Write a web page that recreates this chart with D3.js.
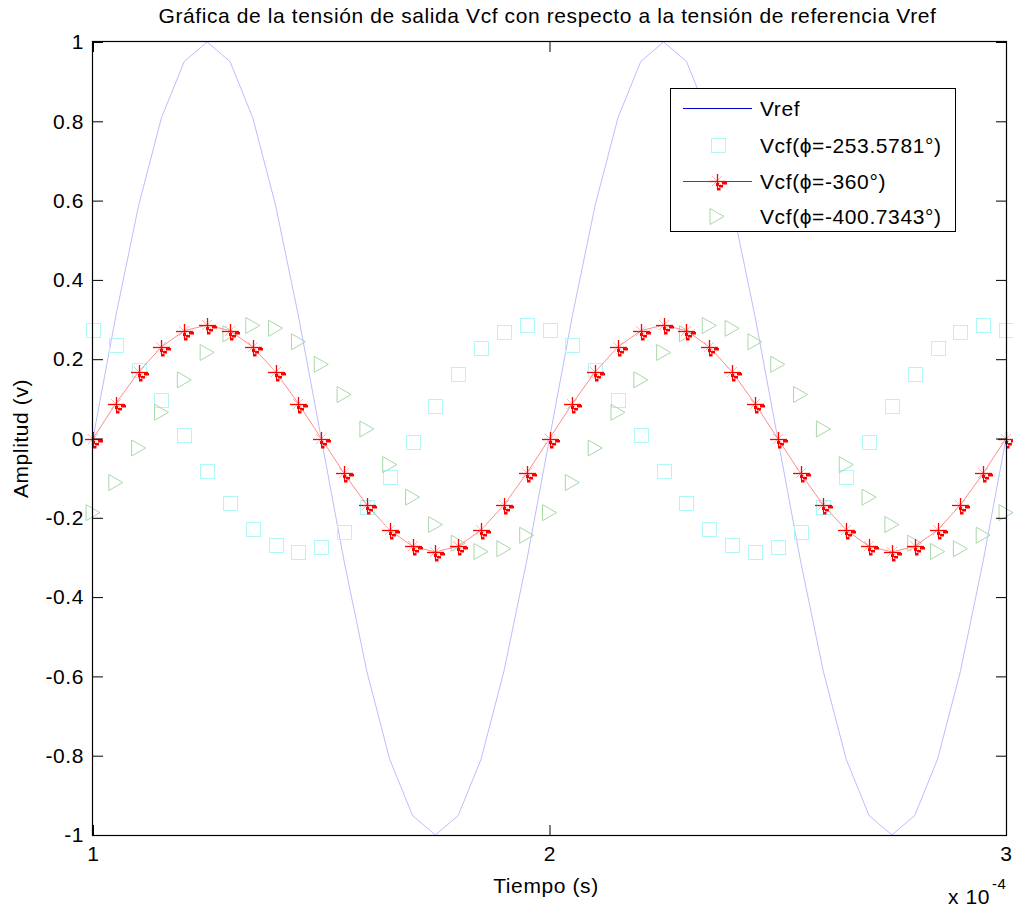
<!DOCTYPE html>
<html><head><meta charset="utf-8">
<script src="https://cdn.jsdelivr.net/npm/d3@7"></script>
<style>body{margin:0;background:#fff;} text{font-family:"Liberation Sans",Arial,sans-serif;fill:#000;letter-spacing:0.6px;}</style>
</head><body>
<svg id="c" width="1013" height="911"></svg>
<script>
// time samples (units of 1e-4 s)
const tiempo = [1.00,1.05,1.10,1.15,1.20,1.25,1.30,1.35,1.40,1.45,1.50,1.55,1.60,1.65,1.70,1.75,1.80,1.85,1.90,1.95,
  2.00,2.05,2.10,2.15,2.20,2.25,2.30,2.35,2.40,2.45,2.50,2.55,2.60,2.65,2.70,2.75,2.80,2.85,2.90,2.95,3.00];
const vref = [0,0.309,0.588,0.809,0.951,1,0.951,0.809,0.588,0.309,0,-0.309,-0.588,-0.809,-0.951,-1,-0.951,-0.809,-0.588,-0.309,
  0,0.309,0.588,0.809,0.951,1,0.951,0.809,0.588,0.309,0,-0.309,-0.588,-0.809,-0.951,-1,-0.951,-0.809,-0.588,-0.309,0];
const vcf253 = [0.274,0.236,0.174,0.096,0.008,-0.081,-0.162,-0.227,-0.269,-0.286,-0.274,-0.236,-0.174,-0.096,-0.008,0.081,0.162,0.227,0.269,0.286,
  0.274,0.236,0.174,0.096,0.008,-0.081,-0.162,-0.227,-0.269,-0.286,-0.274,-0.236,-0.174,-0.096,-0.008,0.081,0.162,0.227,0.269,0.286,0.274];
const vcf360 = [0,0.088,0.168,0.231,0.272,0.286,0.272,0.231,0.168,0.088,0,-0.088,-0.168,-0.231,-0.272,-0.286,-0.272,-0.231,-0.168,-0.088,
  0,0.088,0.168,0.231,0.272,0.286,0.272,0.231,0.168,0.088,0,-0.088,-0.168,-0.231,-0.272,-0.286,-0.272,-0.231,-0.168,-0.088,0];
const vcf400 = [-0.187,-0.111,-0.024,0.066,0.148,0.217,0.264,0.285,0.278,0.244,0.187,0.111,0.024,-0.066,-0.148,-0.217,-0.264,-0.285,-0.278,-0.244,
  -0.187,-0.111,-0.024,0.066,0.148,0.217,0.264,0.285,0.278,0.244,0.187,0.111,0.024,-0.066,-0.148,-0.217,-0.264,-0.285,-0.278,-0.244,-0.187];
const yTicks = [-1,-0.8,-0.6,-0.4,-0.2,0,0.2,0.4,0.6,0.8,1];
const yTickLabels = ["-1","-0.8","-0.6","-0.4","-0.2","0","0.2","0.4","0.6","0.8","1"];
const xTicks = [1,2,3];
const xTickLabels = ["1","2","3"];
const legendLabels = ["Vref","Vcf(\u03d5=-253.5781\u00b0)","Vcf(\u03d5=-360\u00b0)","Vcf(\u03d5=-400.7343\u00b0)"];
const title = "Gráfica de la tensión de salida Vcf con respecto a la tensión de referencia Vref";

const L=93, R=1006, T=42, B=835;
const FS = "21px";
const svg = d3.select("#c");
const x = d3.scaleLinear().domain([1,3]).range([L,R]);
const y = d3.scaleLinear().domain([-1,1]).range([B,T]);

const g = svg.append("g");
const line = d3.line().x((d,i)=>x(tiempo[i])).y(d=>y(d));

// Vref
g.append("path").datum(vref).attr("d",line).attr("fill","none").attr("stroke","#b4b4ff").attr("stroke-width",0.9);

// cyan squares
g.selectAll(".sq").data(vcf253).enter().append("rect")
  .attr("x",(d,i)=>Math.round(x(tiempo[i]))-6.5).attr("y",d=>Math.round(y(d))-6.5).attr("width",14).attr("height",14)
  .attr("fill","none").attr("stroke","#aef8f8").attr("stroke-width",1);

// green triangles
const tri = (cx,cy)=>`M${cx-7},${cy-8}L${cx+7},${cy}L${cx-7},${cy+8}Z`;
g.selectAll(".tr").data(vcf400).enter().append("path")
  .attr("d",(d,i)=>tri(x(tiempo[i]),y(d)))
  .attr("fill","none").attr("stroke","#a8d8a8").attr("stroke-width",1);

// red line and markers
g.append("path").datum(vcf360).attr("d",line).attr("fill","none").attr("stroke","#ff8c8c").attr("stroke-width",1);
function redMarker(sel,cx,cy){
  const m = sel.append("g").attr("transform",`translate(${Math.round(cx)},${Math.round(cy)})`);
  m.append("line").attr("x1",-5).attr("x2",5).attr("y1",-5).attr("y2",5).attr("stroke","#ffb8b8").attr("stroke-width",1);
  m.append("line").attr("x1",-5).attr("x2",5).attr("y1",5).attr("y2",-5).attr("stroke","#ffb8b8").attr("stroke-width",1);
  m.append("line").attr("x1",-8).attr("x2",9).attr("y1",0.5).attr("y2",0.5).attr("stroke","#f00").attr("stroke-width",1.3);
  m.append("line").attr("x1",0.5).attr("x2",0.5).attr("y1",-7).attr("y2",7).attr("stroke","#f00").attr("stroke-width",1.3);
  [[5,1,5,2.5],[-1,2,3,3],[2,4,4,2.5],[0,7,3.5,2.5]].forEach(r=>
    m.append("rect").attr("x",r[0]).attr("y",r[1]).attr("width",r[2]).attr("height",r[3]).attr("fill","#f00"));
}
vcf360.forEach((d,i)=>redMarker(g,x(tiempo[i]),y(d)));

// axes box
svg.append("rect").attr("x",L-0.5).attr("y",T-0.5).attr("width",R-L+1).attr("height",B-T+1)
  .attr("fill","none").attr("stroke","#000").attr("stroke-width",1.2);

// ticks
const yAxisL = d3.axisLeft(y).tickValues(yTicks).tickSizeInner(-10).tickSizeOuter(0).tickPadding(20).tickFormat((d,i)=>yTickLabels[i]);
const ya = svg.append("g").attr("transform",`translate(${L},0)`).call(yAxisL);
const yAxisR = d3.axisRight(y).tickValues(yTicks).tickSizeInner(-10).tickSizeOuter(0).tickFormat("");
const yr = svg.append("g").attr("transform",`translate(${R},0)`).call(yAxisR);
const xAxisB = d3.axisBottom(x).tickValues(xTicks).tickSizeInner(-10).tickSizeOuter(0).tickPadding(20).tickFormat((d,i)=>xTickLabels[i]);
const xb = svg.append("g").attr("transform",`translate(0,${B})`).call(xAxisB);
const xAxisT = d3.axisTop(x).tickValues(xTicks).tickSizeInner(-10).tickSizeOuter(0).tickFormat("");
const xt = svg.append("g").attr("transform",`translate(0,${T})`).call(xAxisT);
[ya,yr,xb,xt].forEach(a=>{a.select(".domain").remove(); a.selectAll("line").attr("stroke","#000");
  a.selectAll("text").style("font-family","Liberation Sans, Arial, sans-serif").style("font-size",FS).attr("fill","#000");});
ya.selectAll("text").attr("dx",0).attr("x",-9);
xb.selectAll("text").attr("y",11);

// labels
svg.append("text").attr("x",(L+R)/2-2).attr("y",23).attr("text-anchor","middle").style("font-size","21px").text(title);
svg.append("text").attr("x",546).attr("y",893).attr("text-anchor","middle").style("font-size",FS).text("Tiempo (s)");
svg.append("text").attr("transform",`translate(28,${(T+B)/2}) rotate(-90)`).attr("text-anchor","middle").style("font-size",FS).text("Amplitud (v)");
svg.append("text").attr("x",948).attr("y",904).style("font-size",FS).text("x 10");
svg.append("text").attr("x",992).attr("y",889).style("font-size","15px").text("-4");

// legend
const lg = svg.append("g");
lg.append("rect").attr("x",670.5).attr("y",88.5).attr("width",285).attr("height",143).attr("fill","#fff").attr("stroke","#000").attr("stroke-width",1);
const ly = [108.5,145.5,181.5,216.5];
legendLabels.forEach((t,i)=>lg.append("text").attr("x",760).attr("y",ly[i]+7).style("font-size",FS).text(t));
lg.append("line").attr("x1",683).attr("x2",752).attr("y1",ly[0]).attr("y2",ly[0]).attr("stroke","#0000c8").attr("stroke-width",1);
lg.append("rect").attr("x",711.5).attr("y",ly[1]-7).attr("width",14).attr("height",14).attr("fill","none").attr("stroke","#aef8f8");
lg.append("line").attr("x1",683).attr("x2",752).attr("y1",ly[2]).attr("y2",ly[2]).attr("stroke","#f00").attr("stroke-width",1);
redMarker(lg,717,ly[2]-0.5);
lg.append("path").attr("d",tri(717,ly[3])).attr("fill","none").attr("stroke","#a8d8a8");
</script>
</body></html>
